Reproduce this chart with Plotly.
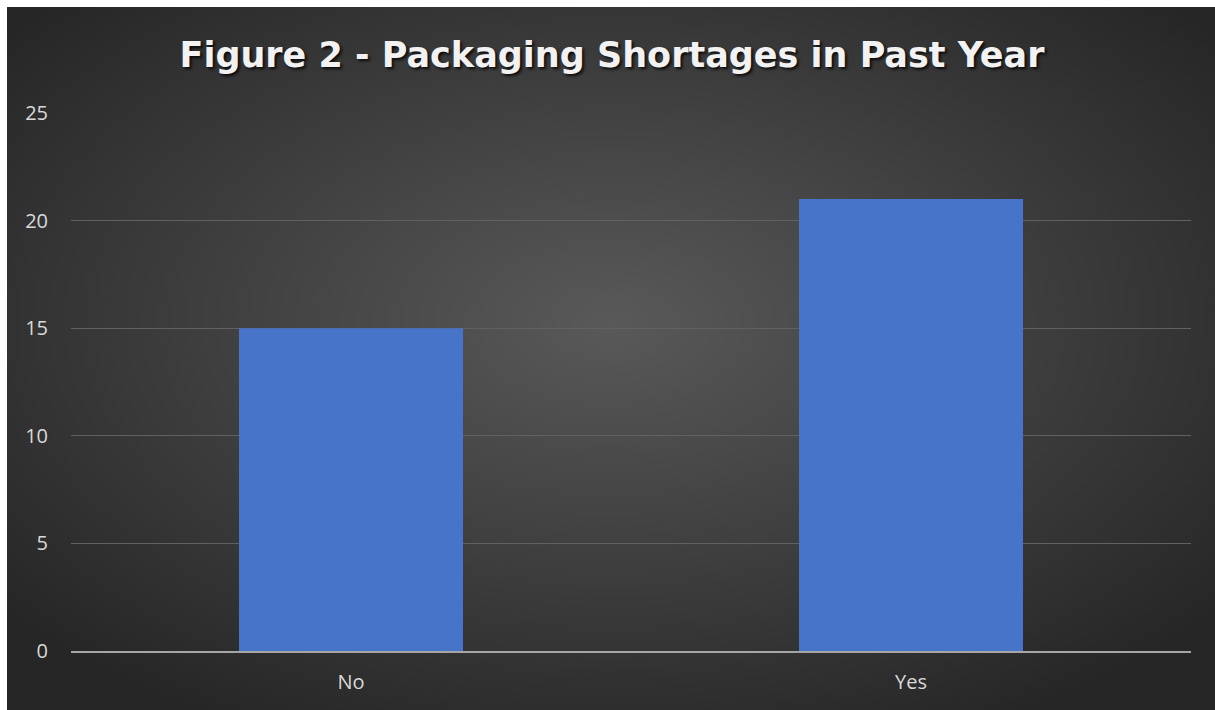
import base64
import plotly.graph_objects as go

categories = ["No", "Yes"]
counts = [15, 21]
y_ticks = [0, 5, 10, 15, 20, 25]
title_text = "Figure 2 - Packaging Shortages in Past Year"

W, H = 1215, 710
L, R, T, B = 71, 24, 113, 59
pw, ph = W - L - R, H - T - B

svg = (
    '<svg xmlns="http://www.w3.org/2000/svg" width="1208" height="703" viewBox="0 0 1208 703" preserveAspectRatio="none">'
    '<defs><radialGradient id="g" cx="50%" cy="45%" r="65%">'
    '<stop offset="0%" stop-color="#595959"/>'
    '<stop offset="100%" stop-color="#262626"/>'
    '</radialGradient></defs>'
    '<rect width="1208" height="703" fill="url(#g)"/></svg>'
)
src = "data:image/svg+xml;base64," + base64.b64encode(svg.encode()).decode()

fig = go.Figure()
fig.add_trace(go.Bar(
    x=categories, y=counts,
    marker=dict(color="#4773C8", line=dict(width=0)),
    hoverinfo="x+y",
))

fig.add_layout_image(dict(
    source=src, xref="paper", yref="paper",
    x=(7 - L) / pw, y=(H - B - 7) / ph,
    sizex=(W - 7) / pw, sizey=(H - 7) / ph,
    xanchor="left", yanchor="top", sizing="stretch", layer="below",
))

fig.update_layout(
    width=W, height=H,
    margin=dict(l=L, r=R, t=T, b=B),
    paper_bgcolor="white",
    plot_bgcolor="rgba(0,0,0,0)",
    bargap=0.6,
    showlegend=False,
    title=dict(
        text=title_text,
        x=(612 - L) / pw, xref="paper", xanchor="center",
        y=(H - 55) / H, yanchor="middle",
        font=dict(family="DejaVu Sans", size=35, color="#F2F2F2", weight="bold",
                  shadow="2px 2px 3px rgba(0,0,0,0.8)"),
    ),
    xaxis=dict(
        range=[-0.5, 1.5],
        showgrid=False,
        showline=True, linecolor="#A6A6A6", linewidth=2,
        tickfont=dict(family="Open Sans", size=20, color="#D9D9D9"),
        ticks="", ticklabelstandoff=12,
        zeroline=False,
    ),
    yaxis=dict(
        range=[0, 25],
        tickvals=y_ticks,
        showgrid=True, gridcolor="#616161", gridwidth=1,
        showline=False, zeroline=False,
        tickfont=dict(family="Open Sans", size=20, color="#D9D9D9"),
        ticks="", ticklabelstandoff=22,
    ),
)

fig.write_html("out.html")
